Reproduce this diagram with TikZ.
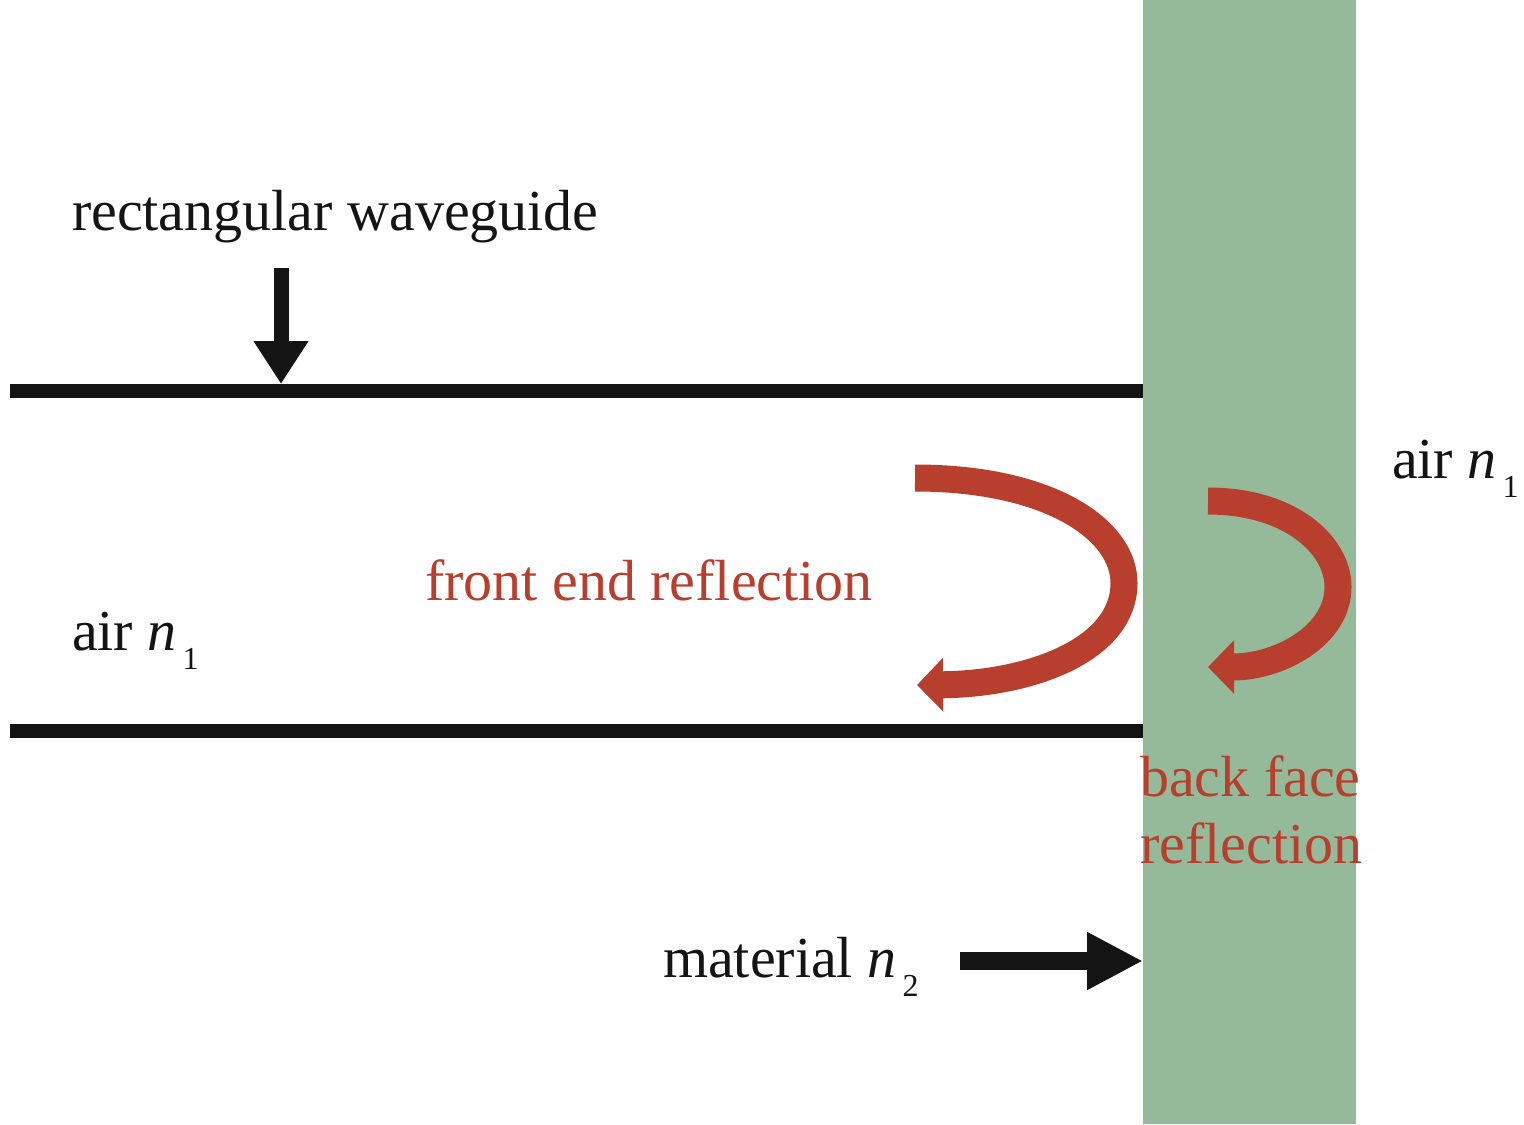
\documentclass[tikz,border=0pt]{standalone}
\usepackage{fontspec}
\setmainfont{Liberation Serif}
\usetikzlibrary{arrows.meta}
\definecolor{slab}{HTML}{95BA9A}
\definecolor{refl}{HTML}{B83F2D}
\definecolor{ink}{HTML}{141414}
\newcommand\lowsub[1]{\kern3pt\raisebox{-9.5pt}{\fontsize{16}{16}\selectfont #1}}
\tikzset{
  lbl/.style={anchor=base west,inner sep=0pt,outer sep=0pt,font=\fontsize{29}{33.5}\selectfont,text=ink},
  rlbl/.style={lbl,text=refl},
  wall/.style={draw=ink,line width=7pt},
  blackarrow/.style={draw=ink,line width=#1},
  redarrow/.style={draw=refl,line width=13.5pt,-{Triangle[length=13pt,width=26pt]}}
}
\begin{document}
\begin{tikzpicture}[x=0.5pt,y=-0.5pt]
\useasboundingbox (0,0) rectangle (1524,1124);
\fill[slab] (1143,0) rectangle (1356,1124);
% waveguide walls
\coordinate (tl) at (10,391);
\coordinate (tr) at (1143,391);
\coordinate (bl) at (10,731);
\coordinate (br) at (1143,731);
\draw[wall] (tl) -- (tr);
\draw[wall] (bl) -- (br);
% labels
\node[lbl] (wg) at (72,230) {rectangular waveguide};
\node[lbl] (airL) at (72,650) {air \textit{n}\lowsub{1}};
\node[lbl] (airR) at (1392,478) {air \textit{n}\lowsub{1}};
\node[lbl] (mat) at (663,977) {material \textit{n}\lowsub{2}};
\node[rlbl] (fer) at (425,600) {front end reflection};
\node[rlbl,align=left] (bfr) at (1140,863) {back face\\reflection};
% black arrows
\coordinate (wgs) at (281,268);
\coordinate (wgt) at (281,384);
\draw[blackarrow=7.5pt,-{Triangle[length=21.5pt,width=26pt]}] (wgs) -- (wgt);
\coordinate (ms) at (960,961);
\coordinate (mt) at (1143,961);
\draw[blackarrow=9pt,-{Triangle[length=28pt,width=27pt]}] (ms) -- (mt);
% red reflection arrows
\coordinate (f0) at (915,478);
\coordinate (f1) at (1124,583);
\coordinate (f2) at (917,685);
\draw[redarrow] (f0) .. controls (1050,478) and (1124,530) .. (f1)
  .. controls (1124,650) and (1030,684) .. (f2);
\coordinate (b0) at (1208,501);
\coordinate (b1) at (1338,587);
\coordinate (b2) at (1208,667);
\draw[redarrow] (b0) .. controls (1290,501) and (1338,545) .. (b1)
  .. controls (1338,635) and (1280,667) .. (b2);
\end{tikzpicture}
\end{document}
